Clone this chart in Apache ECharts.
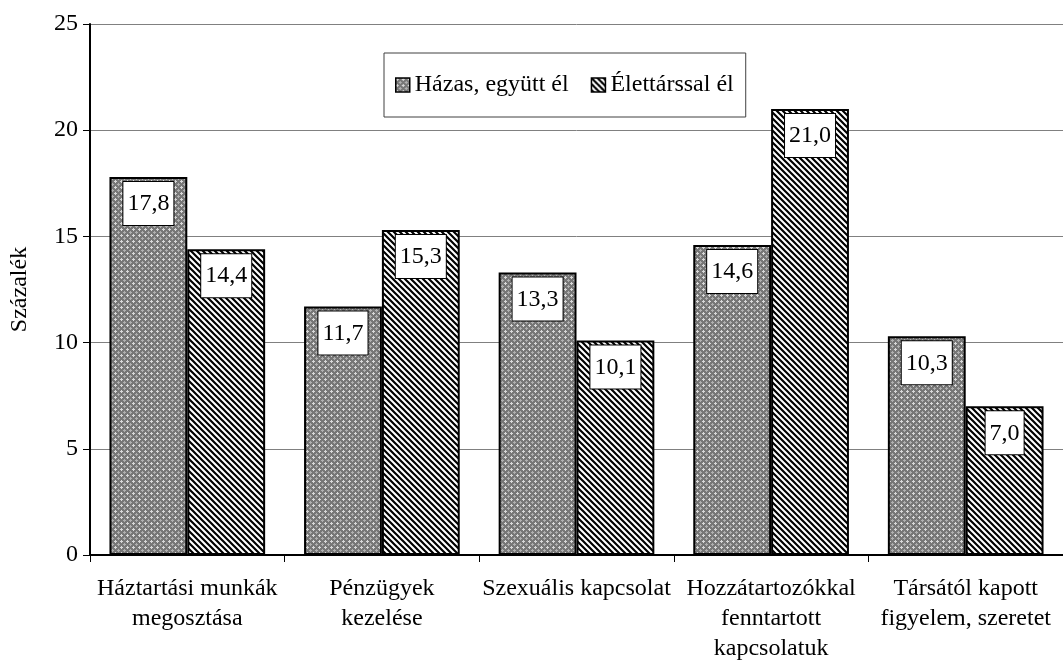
<!DOCTYPE html>
<html>
<head>
<meta charset="utf-8">
<script src="https://cdn.jsdelivr.net/npm/echarts@6/dist/echarts.min.js"></script>
<style>
  html, body { margin: 0; padding: 0; background: #fff; }
  #chart { width: 1063px; height: 665px; }
</style>
</head>
<body>
<div id="chart"></div>
<script>
// adatok
var categories = [
  'Háztartási munkák\nmegosztása',
  'Pénzügyek\nkezelése',
  'Szexuális kapcsolat',
  'Hozzátartozókkal\nfenntartott\nkapcsolatuk',
  'Társától kapott\nfigyelem, szeretet'
];
var hazasValues = [17.8, 11.7, 13.3, 14.6, 10.3];
var elettarsValues = [14.4, 15.3, 10.1, 21.0, 7.0];
var seriesNames = ['Házas, együtt él', 'Élettárssal él'];
var yTicks = [0, 5, 10, 15, 20, 25];

var FONT = 'Liberation Serif';

// pontozott szürke minta
function dotPattern() {
  var c = document.createElement('canvas');
  c.width = 6; c.height = 6;
  var ctx = c.getContext('2d');
  ctx.fillStyle = '#777777';
  ctx.fillRect(0, 0, 6, 6);
  ctx.fillStyle = '#d8d8d8';
  ctx.fillRect(1, 0, 1, 1);
  ctx.fillRect(0, 1, 3, 1);
  ctx.fillRect(1, 2, 1, 1);
  ctx.fillStyle = '#b0b0b0';
  ctx.fillRect(4, 3, 1, 1);
  ctx.fillRect(3, 4, 3, 1);
  ctx.fillRect(4, 5, 1, 1);
  return c;
}

// ferde csíkos minta
function stripePattern() {
  var s = 6;
  var c = document.createElement('canvas');
  c.width = s; c.height = s;
  var ctx = c.getContext('2d');
  ctx.fillStyle = '#ffffff';
  ctx.fillRect(0, 0, s, s);
  ctx.strokeStyle = '#000000';
  ctx.lineWidth = 2.2;
  ctx.beginPath();
  for (var k = -1; k <= 1; k++) {
    ctx.moveTo(k * s - 1, -1);
    ctx.lineTo(k * s + s + 1, s + 1);
  }
  ctx.stroke();
  return c;
}

var labelOption = {
  show: true,
  position: 'insideTop',
  distance: 5,
  formatter: function (p) {
    return p.value.toFixed(1).replace('.', ',');
  },
  fontFamily: FONT,
  fontSize: 24,
  lineHeight: 24,
  color: '#000',
  backgroundColor: '#fff',
  borderColor: '#000',
  borderWidth: 1,
  padding: [10, 4, 9, 4]
};

var chart = echarts.init(document.getElementById('chart'));

var option = {
  animation: false,
  textStyle: { fontFamily: FONT, color: '#000' },
  legend: {
    data: seriesNames,
    left: 384,
    top: 53,
    icon: 'rect',
    itemWidth: 14,
    itemHeight: 14,
    itemGap: 22,
    padding: [20, 12, 20, 11],
    borderColor: '#404040',
    borderWidth: 1,
    backgroundColor: '#fff',
    itemStyle: { borderColor: '#000', borderWidth: 1.5 },
    textStyle: { fontFamily: FONT, fontSize: 24, color: '#000' }
  },
  grid: {
    left: 87,
    right: 0,
    top: 24,
    bottom: 110,
    containLabel: false
  },
  xAxis: {
    type: 'category',
    data: categories,
    axisLine: { lineStyle: { color: '#000', width: 2 } },
    axisTick: { show: true, length: 7, interval: 0, lineStyle: { color: '#000', width: 1 } },
    axisLabel: {
      interval: 0,
      margin: 19,
      fontFamily: FONT,
      fontSize: 24,
      lineHeight: 30,
      color: '#000'
    }
  },
  yAxis: {
    type: 'value',
    min: yTicks[0],
    max: yTicks[yTicks.length - 1],
    interval: 5,
    name: 'Százalék',
    nameLocation: 'middle',
    nameGap: 58,
    nameRotate: 90,
    nameTextStyle: { fontFamily: FONT, fontSize: 24, color: '#000' },
    axisLine: { show: true, lineStyle: { color: '#000', width: 2 } },
    axisTick: { show: true, length: 7, lineStyle: { color: '#000', width: 1 } },
    axisLabel: { margin: 12, fontFamily: FONT, fontSize: 24, color: '#000' },
    splitLine: { show: true, lineStyle: { color: '#808080', width: 1 } }
  },
  series: [{
    name: seriesNames[0],
    type: 'bar',
    data: hazasValues,
    barGap: '0%',
    barCategoryGap: '20%',
    itemStyle: {
      color: { image: dotPattern(), repeat: 'repeat' },
      borderColor: '#000',
      borderWidth: 2
    },
    label: labelOption
  }, {
    name: seriesNames[1],
    type: 'bar',
    data: elettarsValues,
    itemStyle: {
      color: { image: stripePattern(), repeat: 'repeat' },
      borderColor: '#000',
      borderWidth: 2
    },
    label: labelOption
  }]
};

chart.setOption(option);
</script>
</body>
</html>
